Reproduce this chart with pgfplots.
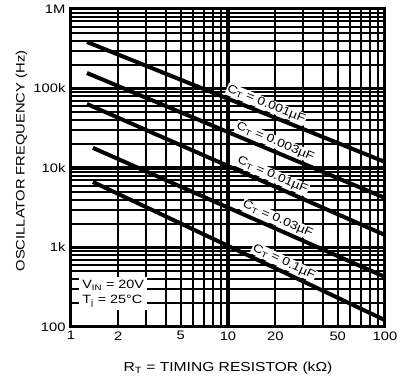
\documentclass[border=0pt]{standalone}
\usepackage{pgfplots}
\pgfplotsset{compat=1.18}
\usepackage{fontspec}
\setmainfont{Liberation Sans}[FakeStretch=1.2]
\begin{document}
\begin{tikzpicture}
\begin{axis}[
  name=ax,
  scale only axis, width=314pt, height=318pt,
  xmode=log, ymode=log,
  xmin=1, xmax=100, ymin=100, ymax=1000000,
  xtick={1,2,5,10,20,50,100},
  xticklabels={1,2,5,10,20,50,100},
  minor xtick={3,4,6,7,8,9,30,40,60,70,80,90},
  ytick={100,1000,10000,100000,1000000},
  yticklabels={100,1k,10k,100k,1M},
  minor ytick={200,300,400,500,600,700,800,900,2000,3000,4000,5000,6000,7000,8000,9000,20000,30000,40000,50000,60000,70000,80000,90000,200000,300000,400000,500000,600000,700000,800000,900000},
  grid=both,
  major grid style={black, line width=2pt},
  minor grid style={black, line width=2pt},
  extra x ticks={10}, extra x tick labels={},
  extra y ticks={1000,10000,100000}, extra y tick labels={},
  extra tick style={major grid style={black, line width=3.5pt}},
  major tick length=0pt, minor tick length=0pt,
  axis line style={line width=3pt},
  tick label style={font=\fontsize{12.3}{14}\selectfont},
  xticklabel style={yshift=-1pt},
  yticklabel style={xshift=-2pt},
  xlabel={R\textsubscript{T} = TIMING RESISTOR (kΩ)},
  ylabel={OSCILLATOR FREQUENCY (Hz)},
  xlabel style={font=\fontsize{13}{14}\selectfont, at={(axis description cs:0.5,-0.129)}, anchor=center},
  ylabel style={font=\fontsize{12.3}{14}\selectfont, at={(axis description cs:-0.158,0.522)}, anchor=center},
  clip=true,
  every node near coord/.style={},
]
\addplot[black, line width=4pt] coordinates {(1.264,384600) (100,11900)}
  node[pos=0.59, sloped, above=1pt, fill=white, inner sep=1pt, font=\fontsize{11.5}{12}\selectfont] {C\textsubscript{T} = 0.001µF};
\addplot[black, line width=4pt] coordinates {(1.264,156700) (100,4200)}
  node[pos=0.62, sloped, above=1pt, fill=white, inner sep=1pt, font=\fontsize{11.5}{12}\selectfont] {C\textsubscript{T} = 0.003µF};
\addplot[black, line width=4pt] coordinates {(1.264,63800) (100,1435)}
  node[pos=0.61, sloped, above=1pt, fill=white, inner sep=1pt, font=\fontsize{11.5}{12}\selectfont] {C\textsubscript{T} = 0.01µF};
\addplot[black, line width=4pt] coordinates {(1.38,17900) (100,426)}
  node[pos=0.62, sloped, above=1pt, fill=white, inner sep=1pt, font=\fontsize{11.5}{12}\selectfont] {C\textsubscript{T} = 0.03µF};
\addplot[black, line width=4pt] coordinates {(1.38,6670) (100,122)}
  node[pos=0.64, sloped, above=1pt, fill=white, inner sep=1pt, font=\fontsize{11.5}{12}\selectfont] {C\textsubscript{T} = 0.1µF};
\node[fill=white, anchor=north west, inner sep=3pt, align=left, font=\fontsize{12}{15}\selectfont]
  at (axis description cs:0.026,0.157) {V\textsubscript{IN} = 20V\\T\textsubscript{j} = 25°C};
\end{axis}
\pgfresetboundingbox
\path ([xshift=-71pt,yshift=-54pt]ax.south west) rectangle ([xshift=20pt,yshift=9pt]ax.north east);
\end{tikzpicture}
\end{document}
